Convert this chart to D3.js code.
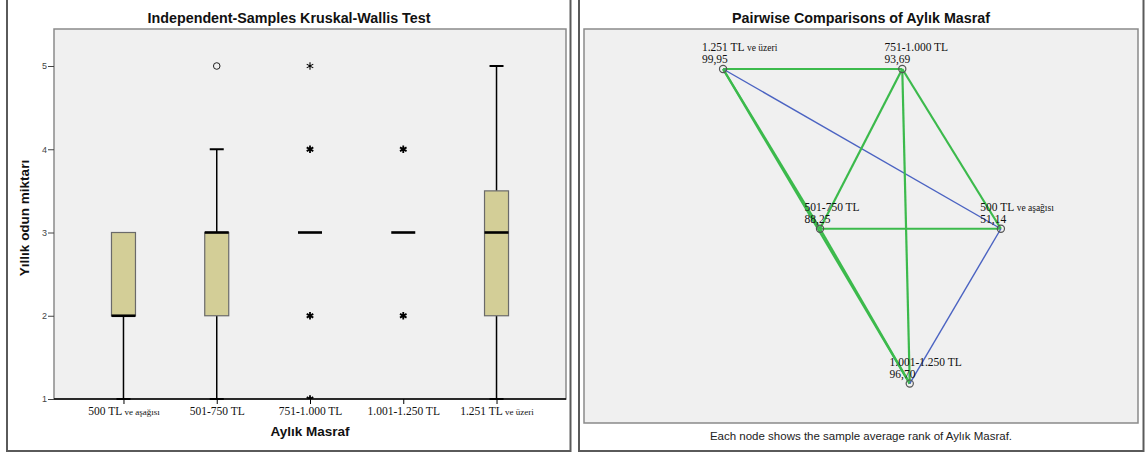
<!DOCTYPE html>
<html>
<head>
<meta charset="utf-8">
<script src="https://cdn.jsdelivr.net/npm/d3@7/dist/d3.min.js"></script>
<style>
  html, body { margin: 0; padding: 0; background: #ffffff; }
  svg { display: block; }
</style>
</head>
<body>
<svg id="chart" width="1147" height="454"></svg>
<script>
// ---------------- DATA ----------------
const categories   = ["500 TL ve aşağısı", "501-750 TL", "751-1.000 TL", "1.001-1.250 TL", "1.251 TL ve üzeri"];
const labelMain    = ["500 TL", "501-750 TL", "751-1.000 TL", "1.001-1.250 TL", "1.251 TL"];
const labelSmall   = [" ve aşağısı", "", "", "", " ve üzeri"];

// box plot summaries of "Yıllık odun miktarı"
const boxQ1        = [2, 2, 3, 3, 2];
const boxMedian    = [2, 3, 3, 3, 3];
const boxQ3        = [3, 3, 3, 3, 3.5];
const whiskerLow   = [1, 1, 3, 3, 1];
const whiskerHigh  = [3, 4, 3, 3, 5];
const outlierCat   = [1];
const outlierVal   = [5];
const extremeCat   = [2, 2, 2, 2, 3, 3];
const extremeVal   = [5, 4, 2, 1, 4, 2];
const yTicks       = [1, 2, 3, 4, 5];

// pairwise comparison graph
const meanRanks    = [51.14, 88.25, 93.69, 96.70, 99.95];
const nodeLayoutX  = [75.25, 42.6, 57.45, 58.8, 25.1];   // layout units 0-100
const nodeLayoutY  = [50.7, 50.7, 10.15, 90.0, 10.15];   // layout units 0-100
const edgeFrom     = [4, 4, 4, 4, 2, 2, 2, 1, 1, 0];
const edgeTo       = [2, 1, 0, 3, 1, 0, 3, 0, 3, 3];
const edgeSig      = [false, false, true, false, false, false, false, false, false, true];

const leftTitle    = "Independent-Samples Kruskal-Wallis Test";
const rightTitle   = "Pairwise Comparisons of Aylık Masraf";
const xTitle       = "Aylık Masraf";
const yTitle       = "Yıllık odun miktarı";
const footer       = "Each node shows the sample average rank of Aylık Masraf.";

// ---------------- DRAW ----------------
const svg = d3.select("#chart");
const sans = "'Liberation Sans', Arial, sans-serif";
const serif = "'Liberation Serif', 'Times New Roman', serif";

// panel frames
svg.append("rect").attr("x", 7).attr("y", -5).attr("width", 563.5).attr("height", 456)
  .attr("fill", "#fff").attr("stroke", "#5a5a5a").attr("stroke-width", 2);
svg.append("rect").attr("x", 579).attr("y", -5).attr("width", 564.5).attr("height", 456)
  .attr("fill", "#fff").attr("stroke", "#5a5a5a").attr("stroke-width", 2);

// ===== LEFT: box plot =====
const L = { left: 54, right: 566, top: 29, bottom: 399 };
const x = d3.scalePoint().domain(categories).range([L.left, L.right]).padding(0.745);
const y = d3.scaleLinear().domain([1, 1 + (L.bottom - L.top) / 83.25]).range([L.bottom, L.top]);

const gL = svg.append("g");
gL.append("rect").attr("x", L.left).attr("y", L.top)
  .attr("width", L.right - L.left).attr("height", L.bottom - L.top)
  .attr("fill", "#f0f0f0").attr("stroke", "#8a8a8a").attr("stroke-width", 1.5);

svg.append("defs").append("clipPath").attr("id", "clipL")
  .append("rect").attr("x", L.left).attr("y", L.top)
  .attr("width", L.right - L.left).attr("height", L.bottom - L.top);

const boxW = 24, capW = 14;
const bx = gL.append("g");
categories.forEach((c, i) => {
  const cx = x(c);
  if (whiskerLow[i] < boxQ1[i]) {
    bx.append("line").attr("x1", cx).attr("x2", cx).attr("y1", y(boxQ1[i])).attr("y2", y(whiskerLow[i]))
      .attr("stroke", "#000").attr("stroke-width", 1.5);
    bx.append("line").attr("x1", cx - capW / 2).attr("x2", cx + capW / 2)
      .attr("y1", y(whiskerLow[i])).attr("y2", y(whiskerLow[i])).attr("stroke", "#000").attr("stroke-width", 2);
  }
  if (whiskerHigh[i] > boxQ3[i]) {
    bx.append("line").attr("x1", cx).attr("x2", cx).attr("y1", y(boxQ3[i])).attr("y2", y(whiskerHigh[i]))
      .attr("stroke", "#000").attr("stroke-width", 1.5);
    bx.append("line").attr("x1", cx - capW / 2).attr("x2", cx + capW / 2)
      .attr("y1", y(whiskerHigh[i])).attr("y2", y(whiskerHigh[i])).attr("stroke", "#000").attr("stroke-width", 2);
  }
  if (boxQ3[i] > boxQ1[i]) {
    bx.append("rect").attr("x", cx - boxW / 2).attr("y", y(boxQ3[i]))
      .attr("width", boxW).attr("height", y(boxQ1[i]) - y(boxQ3[i]))
      .attr("fill", "#d3ce97").attr("stroke", "#6a6a6a").attr("stroke-width", 1.2);
  }
  bx.append("line").attr("x1", cx - boxW / 2).attr("x2", cx + boxW / 2)
    .attr("y1", y(boxMedian[i])).attr("y2", y(boxMedian[i]))
    .attr("stroke", "#000").attr("stroke-width", 2.6);
});

// outliers (circles)
outlierCat.forEach((ci, k) => {
  bx.append("circle").attr("cx", x(categories[ci])).attr("cy", y(outlierVal[k])).attr("r", 3.3)
    .attr("fill", "none").attr("stroke", "#222").attr("stroke-width", 1);
});
// extremes (asterisks)
const starG = gL.append("g").attr("clip-path", "url(#clipL)");
const star = d3.symbol().type(d3.symbolAsterisk || d3.symbolCross).size(40);
extremeCat.forEach((ci, k) => {
  starG.append("path").attr("d", star())
    .attr("transform", `translate(${x(categories[ci])},${y(extremeVal[k])})`)
    .attr("fill", "none").attr("stroke", "#000").attr("stroke-width", k === 0 ? 1.1 : 1.8);
});

// x axis
const xAxis = gL.append("g").attr("transform", `translate(0,${L.bottom})`)
  .call(d3.axisBottom(x).tickSize(5).tickSizeOuter(0).tickFormat(""));
xAxis.select(".domain").attr("stroke", "#000").attr("stroke-width", 1.5)
  .attr("d", `M${L.left},0H${L.right}`);
xAxis.selectAll(".tick line").attr("stroke", "#000");
xAxis.selectAll(".tick").each(function (d, i) {
  const t = d3.select(this).append("text").attr("y", 15.5).attr("text-anchor", "middle")
    .attr("font-family", serif).attr("font-size", 11.5).attr("fill", "#111");
  t.append("tspan").text(labelMain[i]);
  if (labelSmall[i]) t.append("tspan").attr("font-size", 9).text(labelSmall[i]);
});

// y axis
const yAxis = gL.append("g").attr("transform", `translate(${L.left},0)`)
  .call(d3.axisLeft(y).tickValues(yTicks).tickSize(6).tickFormat(d3.format("d")));
yAxis.select(".domain").remove();
yAxis.selectAll(".tick line").attr("stroke", "#444");
yAxis.selectAll(".tick text").attr("font-family", sans).attr("font-size", 9).attr("fill", "#444").attr("x", -7);

// titles
svg.append("text").attr("x", 289).attr("y", 23).attr("text-anchor", "middle")
  .attr("font-family", sans).attr("font-weight", "bold").attr("font-size", 14.3).attr("fill", "#111").text(leftTitle);
svg.append("text").attr("x", (x(categories[0]) + x(categories[4])) / 2).attr("y", 436).attr("text-anchor", "middle")
  .attr("font-family", sans).attr("font-weight", "bold").attr("font-size", 13.5).attr("fill", "#111").text(xTitle);
svg.append("text").attr("transform", `translate(29,${(L.top + L.bottom) / 2 + 4}) rotate(-90)`)
  .attr("text-anchor", "middle").attr("font-family", sans).attr("font-weight", "bold")
  .attr("font-size", 13.5).attr("fill", "#111").text(yTitle);

// ===== RIGHT: pairwise comparisons =====
const R = { left: 584, right: 1138, top: 29, bottom: 423 };
const gR = svg.append("g");
gR.append("rect").attr("x", R.left).attr("y", R.top)
  .attr("width", R.right - R.left).attr("height", R.bottom - R.top)
  .attr("fill", "#f0f0f0").attr("stroke", "#8a8a8a").attr("stroke-width", 1.5);

const nx = d3.scaleLinear().domain([0, 100]).range([R.left, R.right]);
const ny = d3.scaleLinear().domain([0, 100]).range([R.top, R.bottom]);

const edgeG = gR.append("g");
edgeFrom.forEach((a, k) => {
  const b = edgeTo[k];
  edgeG.append("line")
    .attr("x1", nx(nodeLayoutX[a])).attr("y1", ny(nodeLayoutY[a]))
    .attr("x2", nx(nodeLayoutX[b])).attr("y2", ny(nodeLayoutY[b]))
    .attr("stroke", edgeSig[k] ? "#4b63c2" : "#3cba4c")
    .attr("stroke-width", edgeSig[k] ? 1.4 : 2.2);
});

const fmt = v => d3.format(".2f")(v).replace(".", ",");
const nodeG = gR.append("g");
categories.forEach((c, i) => {
  const cx = nx(nodeLayoutX[i]), cy = ny(nodeLayoutY[i]);
  const name = nodeG.append("text").attr("y", cy - 18)
    .attr("font-family", serif).attr("font-size", 11.5).attr("fill", "#111");
  name.append("tspan").text(labelMain[i]);
  if (labelSmall[i]) name.append("tspan").attr("font-size", 9.5).text(labelSmall[i]);
  const w = name.node().getComputedTextLength();
  const lx = cx - 0.28 * w;
  name.attr("x", lx);
  nodeG.append("text").attr("x", lx).attr("y", cy - 5.5)
    .attr("font-family", serif).attr("font-size", 11.5).attr("fill", "#111").text(fmt(meanRanks[i]));
  nodeG.append("circle").attr("cx", cx).attr("cy", cy).attr("r", 3.6)
    .attr("fill", "none").attr("stroke", "#555").attr("stroke-width", 1.2);
});

svg.append("text").attr("x", 861).attr("y", 23).attr("text-anchor", "middle")
  .attr("font-family", sans).attr("font-weight", "bold").attr("font-size", 14.3).attr("fill", "#111").text(rightTitle);
svg.append("text").attr("x", 861).attr("y", 440).attr("text-anchor", "middle")
  .attr("font-family", sans).attr("font-size", 11.5).attr("fill", "#222").text(footer);
</script>
</body>
</html>
